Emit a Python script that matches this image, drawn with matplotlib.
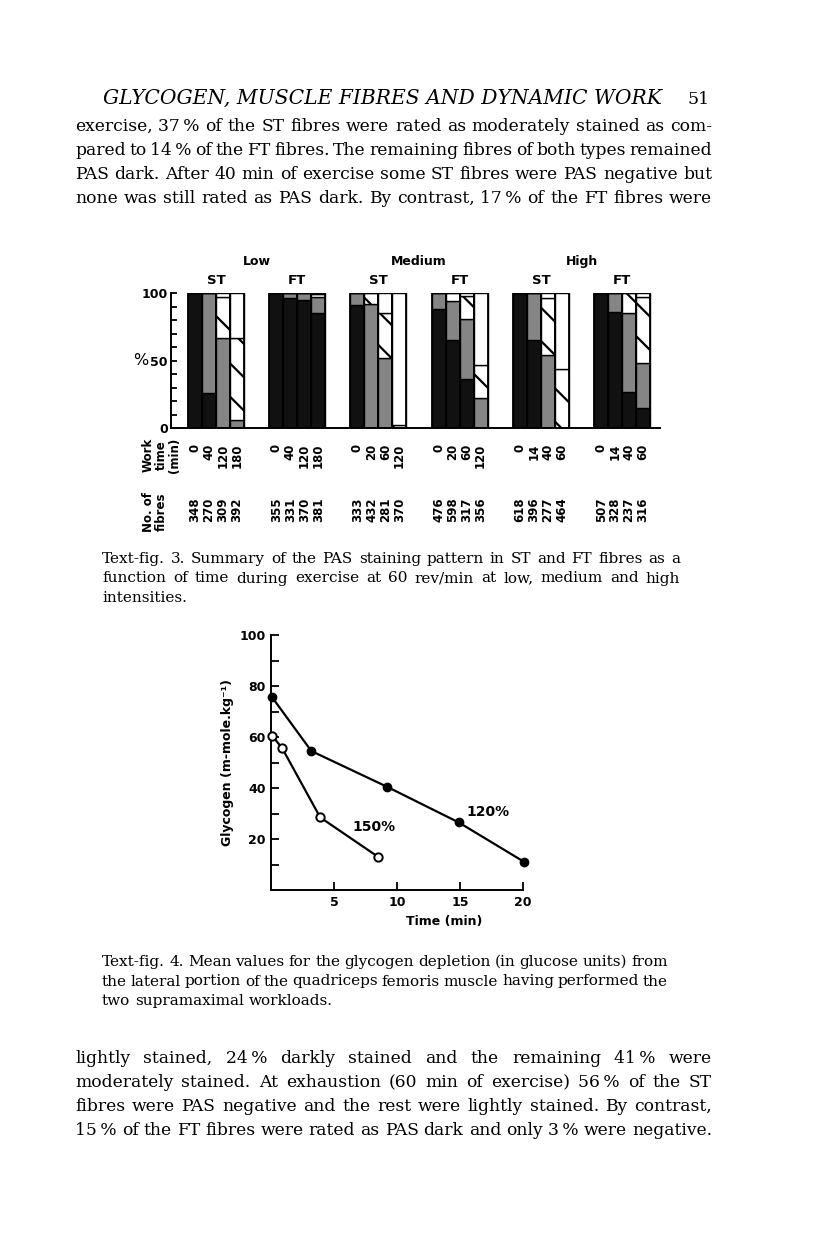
import matplotlib
matplotlib.use("Agg")
import matplotlib.pyplot as plt
import numpy as np

W, H = 816, 1241
SERIF = ['DejaVu Serif']
SANS = ['DejaVu Sans']

# ---- Text-fig. 3 data (percent of fibres per staining class) ----
groups = ['Low', 'Medium', 'High']
fibre_types = ['ST', 'FT']
work_times = [[0, 40, 120, 180], [0, 40, 120, 180],
              [0, 20, 60, 120], [0, 20, 60, 120],
              [0, 14, 40, 60], [0, 14, 40, 60]]
fibre_counts = [[348, 270, 309, 392], [355, 331, 370, 381],
                [333, 432, 281, 370], [476, 598, 317, 356],
                [618, 396, 277, 464], [507, 328, 237, 316]]
pas_dark = [100, 26, 0, 0, 100, 96, 95, 85, 91, 0, 0, 0,
            88, 65, 36, 0, 100, 65, 0, 0, 100, 86, 27, 15]
pas_moderate = [0, 74, 67, 6, 0, 4, 5, 12, 9, 92, 52, 0,
                12, 29, 45, 22, 0, 35, 54, 0, 0, 14, 58, 33]
pas_light = [0, 0, 30, 61, 0, 0, 0, 2, 0, 8, 33, 2,
             0, 6, 17, 25, 0, 0, 42, 44, 0, 0, 15, 49]
pas_negative = [0, 0, 3, 33, 0, 0, 0, 1, 0, 0, 15, 98,
                0, 0, 2, 53, 0, 0, 4, 56, 0, 0, 0, 3]

# ---- Text-fig. 4 data ----
t_120 = [0.1, 3.2, 9.2, 14.9, 20.1]
g_120 = [75.5, 54.5, 40.5, 26.5, 11]
t_150 = [0.1, 0.9, 3.9, 8.5]
g_150 = [60.5, 55.5, 28.5, 13]

header = "GLYCOGEN, MUSCLE FIBRES AND DYNAMIC WORK"
page_no = "51"
top_lines = [
    "exercise, 37\u2009% of the ST fibres were rated as moderately stained as com-",
    "pared to 14\u2009% of the FT fibres. The remaining fibres of both types remained",
    "PAS dark. After 40 min of exercise some ST fibres were PAS negative but",
    "none was still rated as PAS dark. By contrast, 17\u2009% of the FT fibres were",
]
cap3 = [
    "Text-fig. 3. Summary of the PAS staining pattern in ST and FT fibres as a",
    "function of time during exercise at 60 rev/min at low, medium and high",
    "intensities.",
]
cap4 = [
    "Text-fig. 4. Mean values for the glycogen depletion (in glucose units) from",
    "the lateral portion of the quadriceps femoris muscle having performed the",
    "two supramaximal workloads.",
]
bottom_lines = [
    "lightly stained, 24\u2009% darkly stained and the remaining 41\u2009% were",
    "moderately stained. At exhaustion (60 min of exercise) 56\u2009% of the ST",
    "fibres were PAS negative and the rest were lightly stained. By contrast,",
    "15\u2009% of the FT fibres were rated as PAS dark and only 3\u2009% were negative.",
]

plt.rcParams['hatch.linewidth'] = 1.6
fig = plt.figure(figsize=(W / 100, H / 100), dpi=100)
renderer = fig.canvas.get_renderer()


def put_line(text, x0, x1, ybase, justify=True, **kw):
    words = text.split(' ')
    items = [fig.text(0, 1 - ybase / H, w, va='baseline', ha='left', **kw) for w in words]
    widths = [t.get_window_extent(renderer).width for t in items]
    if justify and len(words) > 1:
        gap = (x1 - x0 - sum(widths)) / (len(words) - 1)
    else:
        a = fig.text(0, 0, 'a a', **kw)
        b = fig.text(0, 0, 'aa', **kw)
        gap = a.get_window_extent(renderer).width - b.get_window_extent(renderer).width
        a.remove()
        b.remove()
    x = x0
    for t, w in zip(items, widths):
        t.set_x(x / W)
        x += w + gap


# header
fig.text(103 / W, 1 - 104 / H, header, fontsize=14.6, style='italic',
         family=SERIF, va='baseline', ha='left')
fig.text(710 / W, 1 - 104 / H, page_no, fontsize=12.5, family=SERIF,
         va='baseline', ha='right')

for i, ln in enumerate(top_lines):
    put_line(ln, 75, 712, 131 + 24 * i, True, fontsize=12.3, family=SERIF)
for i, ln in enumerate(cap3):
    put_line(ln, 102, 680, 563 + 19.5 * i, i < 2, fontsize=11.0, family=SERIF)
for i, ln in enumerate(cap4):
    put_line(ln, 102, 668, 966 + 19.5 * i, i < 2, fontsize=11.0, family=SERIF)
for i, ln in enumerate(bottom_lines):
    put_line(ln, 75, 712, 1063 + 24 * i, True, fontsize=12.3, family=SERIF)

# ---- bar chart ----
ax = fig.add_axes([170.7 / W, 1 - 428 / H, (660 - 170.7) / W, 135 / H])
xs = []
for g in range(6):
    for j in range(4):
        xs.append(1.24 + g * 5.81 + j + 0.5)
xs = np.array(xs)

cats = [(pas_dark, '#111111', ''), (pas_moderate, '#858585', ''),
        (pas_light, 'white', '\\'), (pas_negative, 'white', '')]
bottoms = np.zeros(len(xs))
for vals, col, hat in cats:
    vals = np.array(vals, dtype=float)
    ax.bar(xs, vals, width=1.0, bottom=bottoms, color=col, hatch=hat,
           edgecolor='black', linewidth=1.0)
    bottoms += vals
ax.bar(xs, bottoms, width=1.0, fill=False, edgecolor='black', linewidth=1.3)

ax.set_xlim(0, 35)
ax.set_ylim(0, 100)
ax.spines['top'].set_visible(False)
ax.spines['right'].set_visible(False)
ax.spines['left'].set_linewidth(1.4)
ax.spines['bottom'].set_linewidth(1.4)
ax.set_xticks([])
ax.set_yticks(range(0, 101, 10))
ax.set_yticklabels(['0', '', '', '', '', '50', '', '', '', '', '100'])
ax.tick_params(axis='y', direction='in', length=4, width=1.3, pad=2,
               labelsize=9)
for lab in ax.get_yticklabels():
    lab.set_fontweight('bold')

tr = ax.get_xaxis_transform()
for gi, name in enumerate(groups):
    cx = (xs[gi * 8] + xs[gi * 8 + 7]) / 2
    ax.text(cx, 1.23, name, transform=tr, ha='center', va='center',
            fontsize=9, fontweight='bold', family=SANS)
for k in range(6):
    cx = (xs[k * 4] + xs[k * 4 + 3]) / 2
    ax.text(cx, 1.09, fibre_types[k % 2], transform=tr, ha='center',
            va='center', fontsize=9.5, fontweight='bold', family=SANS)
    for j in range(4):
        ax.text(xs[k * 4 + j], -0.115, str(work_times[k][j]), transform=tr,
                rotation=90, ha='center', va='top', fontsize=8.5,
                fontweight='bold', family=SANS, clip_on=False)
        ax.text(xs[k * 4 + j], -0.515, str(fibre_counts[k][j]), transform=tr,
                rotation=90, ha='center', va='top', fontsize=8.5,
                fontweight='bold', family=SANS, clip_on=False)

fig.text(141 / W, 1 - 360 / H, '%', fontsize=11.5, family=SANS,
         ha='center', va='center')
fig.text(161 / W, 1 - 455 / H, 'Work\ntime\n(min)', rotation=90,
         multialignment='center', ha='center', va='center', fontsize=8.5,
         fontweight='bold', family=SANS, linespacing=1.0)
fig.text(155 / W, 1 - 512 / H, 'No. of\nfibres', rotation=90,
         multialignment='center', ha='center', va='center', fontsize=8.5,
         fontweight='bold', family=SANS, linespacing=1.0)

# ---- line chart ----
ax2 = fig.add_axes([271 / W, 1 - 890 / H, 252 / W, 255 / H])
ax2.plot(t_120, g_120, color='black', lw=1.6, marker='o', ms=6,
         mfc='black', mec='black', clip_on=False, zorder=3)
ax2.plot(t_150, g_150, color='black', lw=1.6, marker='o', ms=6,
         mfc='white', mec='black', mew=1.4, clip_on=False, zorder=3)
ax2.set_xlim(0, 20)
ax2.set_ylim(0, 100)
ax2.spines['top'].set_visible(False)
ax2.spines['right'].set_visible(False)
ax2.spines['left'].set_linewidth(1.4)
ax2.spines['bottom'].set_linewidth(1.4)
ax2.set_xticks([5, 10, 15, 20])
ax2.set_yticks(range(10, 101, 10))
ax2.set_yticklabels(['', '20', '', '40', '', '60', '', '80', '', '100'])
ax2.tick_params(direction='in', length=6, width=1.3, labelsize=9, pad=4)
for lab in ax2.get_xticklabels() + ax2.get_yticklabels():
    lab.set_fontweight('bold')
ax2.text(17.2, 30.7, '120%', ha='center', va='center', fontsize=10,
         fontweight='bold', family=SANS)
ax2.text(8.2, 24.8, '150%', ha='center', va='center', fontsize=10,
         fontweight='bold', family=SANS)
fig.text(228 / W, 1 - 763 / H, 'Glycogen (m-mole.kg\u207b\u00b9)', rotation=90,
         ha='center', va='center', fontsize=9, fontweight='bold', family=SANS)
fig.text(444 / W, 1 - 921 / H, 'Time (min)', ha='center', va='center',
         fontsize=9, fontweight='bold', family=SANS)

fig.savefig('out.png', dpi=100)
